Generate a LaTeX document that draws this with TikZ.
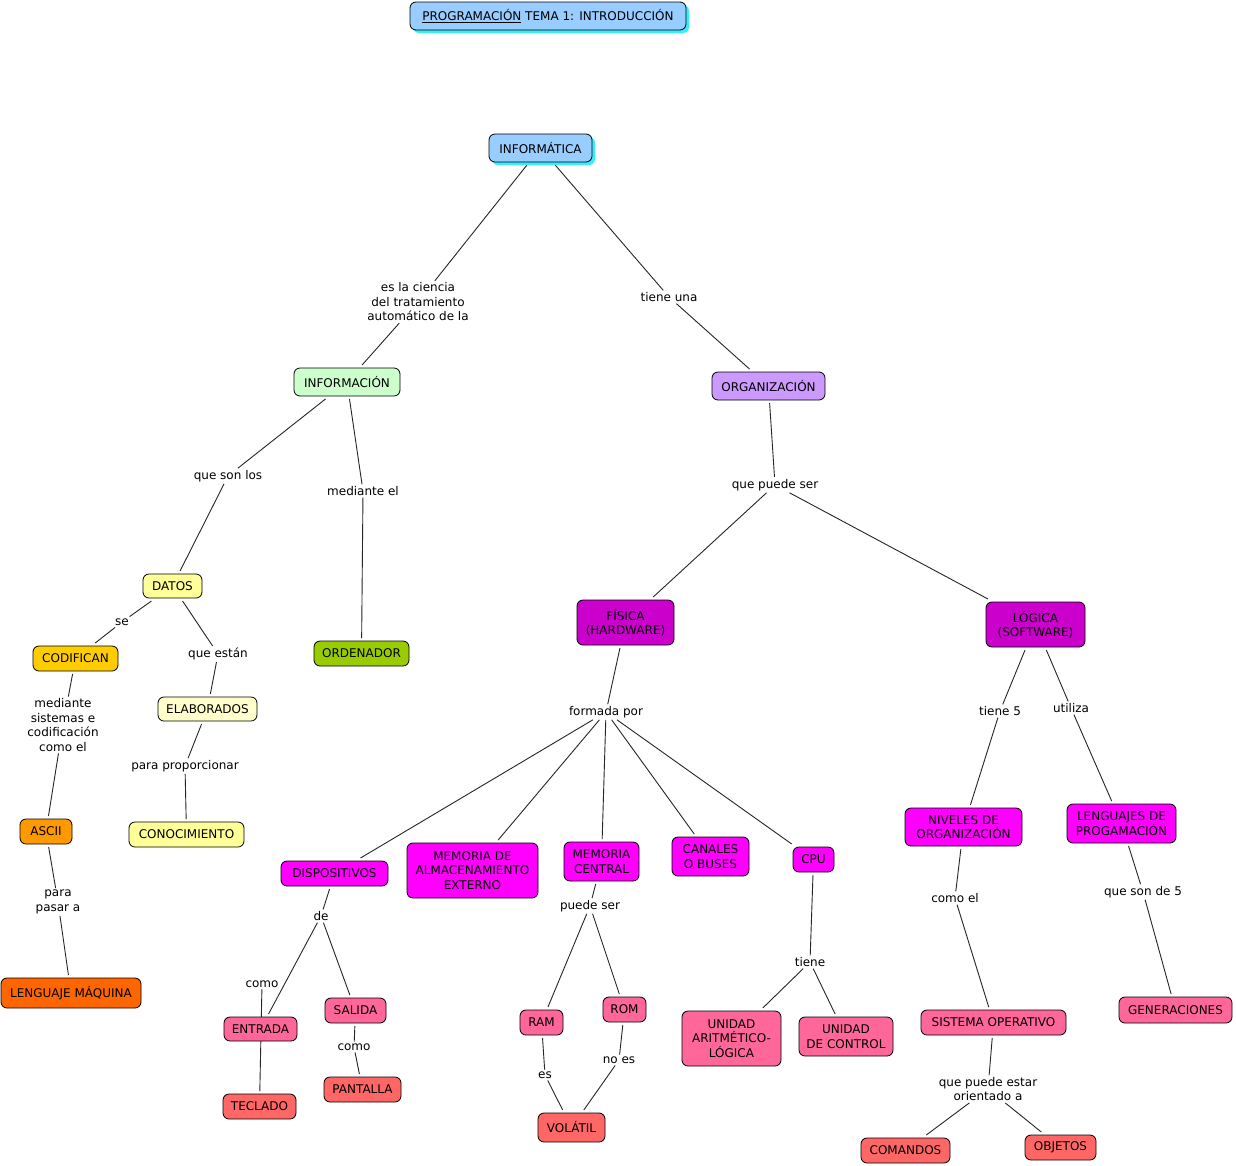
\documentclass[tikz,border=0pt]{standalone}
\usepackage{fontspec}
\setmainfont{DejaVu Sans}
\usetikzlibrary{shadows}
\pgfdeclarelayer{bg}
\pgfsetlayers{bg,main}
\definecolor{cblue}{HTML}{99CCFF}
\definecolor{cshad}{HTML}{33EEFF}
\definecolor{cgreen}{HTML}{CCFFCC}
\definecolor{clav}{HTML}{CC99FF}
\definecolor{cyel}{HTML}{FFFF99}
\definecolor{cpyel}{HTML}{FFFFCC}
\definecolor{cgold}{HTML}{FFCC00}
\definecolor{colive}{HTML}{99CC00}
\definecolor{corange}{HTML}{FF9900}
\definecolor{cdorange}{HTML}{FF6600}
\definecolor{cdmag}{HTML}{CC00CC}
\definecolor{cmag}{HTML}{FF00FF}
\definecolor{cpink}{HTML}{FF6699}
\definecolor{csalmon}{HTML}{FF6666}
\begin{document}
\begin{tikzpicture}[x=1pt,y=-1pt,
  every node/.style={font=\fontsize{12}{14.5}\selectfont, align=center},
  cbox/.style={draw=black, line width=0.8pt, rounded corners=6pt, inner sep=0pt, outer sep=3pt},
  lp/.style={inner sep=1pt, outer sep=1pt},
  edge/.style={draw=black!85, line width=0.9pt},
  csh/.style={drop shadow={shadow xshift=3pt, shadow yshift=-3pt, fill=cshad, opacity=1}}]
\useasboundingbox (0,0) rectangle (1236,1165);
% concepts
\node[cbox, csh, fill=cblue, minimum width=276pt, minimum height=28pt] (title) at (548,16) {\underline{PROGRAMACIÓN} TEMA 1: INTRODUCCIÓN};
\node[cbox, csh, fill=cblue, minimum width=103pt, minimum height=28pt] (inf) at (540.5,148) {INFORMÁTICA};
\node[cbox, fill=cgreen, minimum width=106pt, minimum height=28pt] (infn) at (347,382) {INFORMACIÓN};
\node[cbox, fill=clav, minimum width=113pt, minimum height=28pt] (org) at (768.5,386) {ORGANIZACIÓN};
\node[cbox, fill=cyel, minimum width=59pt, minimum height=24pt] (datos) at (172.5,586) {DATOS};
\node[cbox, fill=cgold, minimum width=85pt, minimum height=25pt] (cod) at (75.5,658.5) {CODIFICAN};
\node[cbox, fill=cpyel, minimum width=99pt, minimum height=24pt] (elab) at (207.5,709) {ELABORADOS};
\node[cbox, fill=colive, minimum width=95pt, minimum height=25pt] (orden) at (361.5,653.5) {ORDENADOR};
\node[cbox, fill=corange, minimum width=52pt, minimum height=25pt] (ascii) at (46,831.5) {ASCII};
\node[cbox, fill=cyel, minimum width=115pt, minimum height=25pt] (conoc) at (186.5,834.5) {CONOCIMIENTO};
\node[cbox, fill=cdorange, minimum width=140pt, minimum height=30pt] (lm) at (71,993) {LENGUAJE MÁQUINA};
\node[cbox, fill=cdmag, minimum width=97pt, minimum height=45pt] (fis) at (625.5,622.5) {FÍSICA\\(HARDWARE)};
\node[cbox, fill=cdmag, minimum width=99pt, minimum height=45pt] (log) at (1035.5,624.5) {LÓGICA\\(SOFTWARE)};
\node[cbox, fill=cmag, minimum width=107pt, minimum height=25pt] (disp) at (334.5,873.5) {DISPOSITIVOS};
\node[cbox, fill=cmag, minimum width=131pt, minimum height=55pt] (mae) at (472.5,870.5) {MEMORIA DE\\ALMACENAMIENTO\\EXTERNO};
\node[cbox, fill=cmag, minimum width=75pt, minimum height=39pt] (mc) at (601.5,861.5) {MEMORIA\\CENTRAL};
\node[cbox, fill=cmag, minimum width=77pt, minimum height=39pt] (can) at (710.5,856.5) {CANALES\\O BUSES};
\node[cbox, fill=cmag, minimum width=41pt, minimum height=25pt] (cpu) at (813.5,859.5) {CPU};
\node[cbox, fill=cmag, minimum width=117pt, minimum height=38pt] (niv) at (963.5,827) {NIVELES DE\\ORGANIZACIÓN};
\node[cbox, fill=cmag, minimum width=109pt, minimum height=39pt] (leng) at (1121.5,823.5) {LENGUAJES DE\\PROGAMACIÓN};
\node[cbox, fill=cpink, minimum width=73pt, minimum height=24pt] (ent) at (260.5,1029) {ENTRADA};
\node[cbox, fill=cpink, minimum width=61pt, minimum height=25pt] (sal) at (355.5,1010.5) {SALIDA};
\node[cbox, fill=csalmon, minimum width=73pt, minimum height=25pt] (tec) at (259.5,1106.5) {TECLADO};
\node[cbox, fill=csalmon, minimum width=77pt, minimum height=25pt] (pan) at (362.5,1089.5) {PANTALLA};
\node[cbox, fill=cpink, minimum width=43pt, minimum height=25pt] (ram) at (541.5,1022.5) {RAM};
\node[cbox, fill=cpink, minimum width=43pt, minimum height=25pt] (rom) at (624.5,1009.5) {ROM};
\node[cbox, fill=csalmon, minimum width=67pt, minimum height=29pt] (vol) at (571.5,1127.5) {VOLÁTIL};
\node[cbox, fill=cpink, minimum width=99pt, minimum height=55pt] (ual) at (731.5,1038.5) {UNIDAD\\ARITMÉTICO-\\LÓGICA};
\node[cbox, fill=cpink, minimum width=94pt, minimum height=39pt] (uc) at (846,1036.5) {UNIDAD\\DE CONTROL};
\node[cbox, fill=cpink, minimum width=145pt, minimum height=25pt] (so) at (993.5,1022.5) {SISTEMA OPERATIVO};
\node[cbox, fill=cpink, minimum width=113pt, minimum height=26pt] (gen) at (1175.5,1010) {GENERACIONES};
\node[cbox, fill=csalmon, minimum width=89pt, minimum height=25pt] (com) at (905.5,1150.5) {COMANDOS};
\node[cbox, fill=csalmon, minimum width=71pt, minimum height=25pt] (obj) at (1060.5,1147.5) {OBJETOS};
% linking phrases
\node[lp] (p1) at (418,302) {es la ciencia\\del tratamiento\\automático de la};
\node[lp] (p2) at (669,297) {tiene una};
\node[lp] (p3) at (228,476) {que son los};
\node[lp] (p4) at (363,491) {mediante el};
\node[lp] (p5) at (775,485) {que puede ser};
\node[lp] (p6) at (122,622) {se};
\node[lp] (p7) at (218,654) {que están};
\node[lp] (p8) at (63,725) {mediante\\sistemas e\\codificación\\como el};
\node[lp] (p9) at (185,766) {para proporcionar};
\node[lp] (p10) at (58,902) {para\\pasar a};
\node[lp] (p11) at (606,712) {formada por};
\node[lp] (p12) at (1000,711) {tiene 5};
\node[lp] (p13) at (1071,708) {utiliza};
\node[lp] (p14) at (321,916) {de};
\node[lp] (p15) at (590,906) {puede ser};
\node[lp] (p16) at (955,898) {como el};
\node[lp] (p17) at (1143,892) {que son de 5};
\node[lp] (p18) at (262,984) {como};
\node[lp] (p19) at (354,1047) {como};
\node[lp] (p20) at (810,962) {tiene};
\node[lp] (p21) at (545,1075) {es};
\node[lp] (p22) at (619,1060) {no es};
\node[lp] (p23) at (988,1089) {que puede estar\\orientado a};
% connectors
\begin{pgfonlayer}{bg}
\fill[white] (0,0) rectangle (1236,1165);
\foreach \a/\b in {inf/p1, p1/infn, inf/p2, p2/org, infn/p3, p3/datos, infn/p4, p4/orden,
  org/p5, p5/fis, p5/log, datos/p6, p6/cod, datos/p7, p7/elab, cod/p8, p8/ascii,
  elab/p9, p9/conoc, ascii/p10, p10/lm, fis/p11, p11/disp, p11/mae, p11/mc, p11/can, p11/cpu,
  log/p12, p12/niv, log/p13, p13/leng, disp/p14, p14/ent, p14/sal, p18/tec,
  sal/p19, p19/pan, mc/p15, p15/ram, p15/rom, ram/p21, p21/vol, rom/p22, p22/vol,
  cpu/p20, p20/ual, p20/uc, niv/p16, p16/so, leng/p17, p17/gen, so/p23, p23/com, p23/obj}
  \draw[edge] (\a) -- (\b);
\end{pgfonlayer}
\end{tikzpicture}
\end{document}
